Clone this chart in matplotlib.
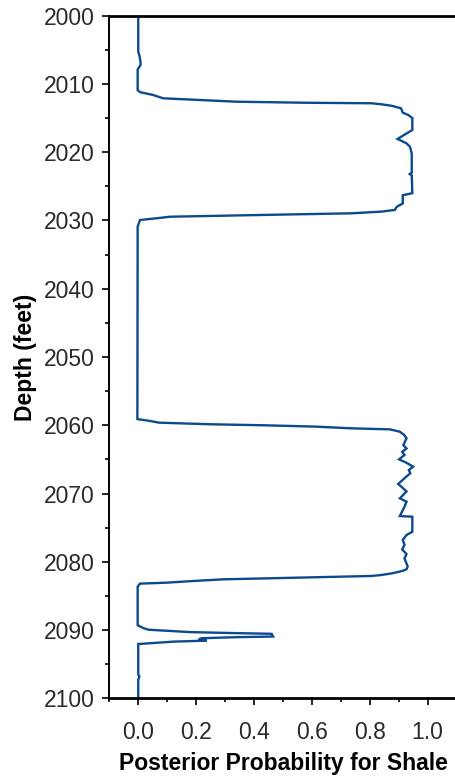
import matplotlib
matplotlib.use("Agg")
import matplotlib.pyplot as plt
from matplotlib.ticker import MultipleLocator, FormatStrFormatter

plt.rcParams['font.family'] = ['Liberation Sans', 'DejaVu Sans']

depth = [2000.0, 2005.3, 2005.8, 2006.8, 2007.2, 2007.9, 2010.9, 2011.2, 2011.6, 2012.1,
         2012.35, 2012.6, 2012.75, 2012.83, 2012.98, 2013.2, 2013.57, 2014.2, 2014.55, 2015.0,
         2016.75, 2017.3, 2018.06, 2018.7, 2019.2, 2020.2, 2023.0, 2023.2, 2023.4, 2026.0,
         2026.3, 2027.5, 2028.0, 2028.45, 2028.7, 2028.95, 2029.2, 2029.45, 2029.7, 2029.93,
         2030.9, 2059.1, 2059.33, 2059.62, 2059.86, 2060.0, 2060.2, 2060.45, 2060.6, 2060.95,
         2061.43, 2061.9, 2062.9, 2063.4, 2063.9, 2064.35, 2065.0, 2065.5, 2066.07, 2066.55,
         2067.04, 2067.5, 2068.6, 2069.1, 2069.7, 2070.7, 2071.2, 2071.93, 2073.3, 2073.4,
         2075.6, 2076.08, 2076.8, 2077.5, 2078.2, 2078.86, 2079.5, 2080.7, 2081.1, 2081.35,
         2081.7, 2081.93, 2082.08, 2082.33, 2082.57, 2082.8, 2083.06, 2083.2, 2083.65, 2089.3,
         2089.7, 2089.95, 2090.3, 2090.44, 2090.55, 2090.95, 2091.05, 2091.2, 2091.3, 2091.4,
         2091.55, 2091.7, 2092.05, 2096.5, 2096.8, 2097.3, 2100.0]

prob_shale = [0.0, 0.0, 0.004, 0.008, 0.008, -0.002, -0.002, 0.006, 0.05, 0.086,
              0.213, 0.34, 0.573, 0.806, 0.841, 0.876, 0.908, 0.914, 0.933, 0.947,
              0.947, 0.925, 0.896, 0.927, 0.939, 0.945, 0.945, 0.938, 0.945, 0.947,
              0.914, 0.914, 0.893, 0.887, 0.841, 0.737, 0.415, 0.11, 0.058, 0.006,
              -0.002, -0.003, 0.035, 0.072, 0.254, 0.432, 0.613, 0.737, 0.87, 0.904,
              0.919, 0.927, 0.916, 0.927, 0.912, 0.92, 0.901, 0.927, 0.95, 0.935,
              0.94, 0.927, 0.898, 0.912, 0.927, 0.904, 0.927, 0.92, 0.904, 0.947,
              0.947, 0.927, 0.914, 0.92, 0.912, 0.927, 0.92, 0.931, 0.927, 0.912,
              0.876, 0.841, 0.806, 0.547, 0.294, 0.196, 0.098, 0.006, -0.002, -0.002,
              0.017, 0.035, 0.179, 0.323, 0.461, 0.466, 0.334, 0.219, 0.212, 0.212,
              0.236, 0.121, 0.0, 0.0, 0.004, 0.0, 0.0]

xlabel = "Posterior Probability for Shale"
ylabel = "Depth (feet)"

fig = plt.figure(figsize=(4.55, 7.79), dpi=100)
ax = fig.add_axes([109.3 / 455, 80.7 / 779, 347.3 / 455, 682.6 / 779])

ax.plot(prob_shale, depth, color='#0B4A8E', lw=1.7, solid_joinstyle='miter')

ax.set_xlim(-0.1, 1.1)
ax.set_ylim(2100, 2000)

ax.xaxis.set_major_locator(MultipleLocator(0.2))
ax.xaxis.set_minor_locator(MultipleLocator(0.1))
ax.xaxis.set_major_formatter(FormatStrFormatter('%.1f'))
ax.yaxis.set_major_locator(MultipleLocator(10))
ax.yaxis.set_minor_locator(MultipleLocator(5))

ax.set_xticks([0.0, 0.2, 0.4, 0.6, 0.8, 1.0])

ax.spines['right'].set_visible(False)
ax.spines['left'].set_linewidth(1.4)
ax.spines['top'].set_linewidth(2.0)
ax.spines['bottom'].set_linewidth(2.0)
for s in ax.spines.values():
    s.set_color('black')

ax.tick_params(axis='both', which='major', length=5, width=1.2, labelsize=16.5,
               labelcolor='#2a2a2a', color='black')
ax.tick_params(axis='both', which='minor', length=2.6, width=1.2, color='black')
ax.tick_params(axis='y', which='major', pad=5.5)
ax.tick_params(axis='x', which='major', pad=11)
ax.tick_params(top=False, right=False, which='both')

ax.set_xlabel(xlabel, fontsize=16.5, fontweight='bold')
ax.xaxis.set_label_coords(0.5, -0.0793)
ax.set_ylabel(ylabel, fontsize=16.5, fontweight='bold', labelpad=5)

fig.savefig('out.png', dpi=100)
